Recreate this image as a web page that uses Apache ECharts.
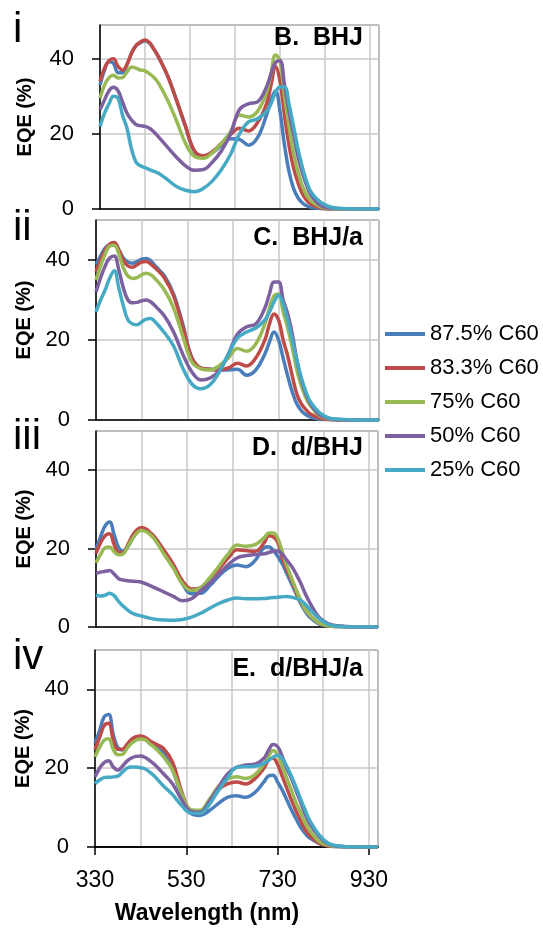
<!DOCTYPE html>
<html>
<head>
<meta charset="utf-8">
<script src="https://cdn.jsdelivr.net/npm/echarts@6/dist/echarts.min.js"></script>
<style>
html,body{margin:0;padding:0;background:#fff;}
#chart{width:543px;height:928px;}
</style>
</head>
<body>
<div id="chart"></div>
<script>
// Wavelength sample points (nm)
const wavelength = [330,340,350,360,370,380,390,400,410,420,430,440,450,460,480,500,520,540,560,580,600,620,640,660,680,700,710,720,730,740,750,760,770,780,790,800,820,840,860,900,950];

const seriesNames = ['87.5% C60','83.3% C60','75% C60','50% C60','25% C60'];
const colors = ['#4A7EBB','#BE4B48','#98B954','#7D60A0','#46AAC5'];
const panelTitles = ['B.  BHJ','C.  BHJ/a','D.  d/BHJ','E.  d/BHJ/a'];
const romanLabels = ['i','ii','iii','iv'];
const xTickLabels = [330,530,730,930];
const yTickLabels = [0,20,40];

// Panel B: BHJ
const bhj_875 = [33,37,39.2,38.8,36.3,36.3,38.5,41.5,43.5,44.3,44.8,44.2,42.5,40.5,35.5,29,22,15.3,14,15,17,18.7,18.5,17,19,25,29,31.5,26,17,10,5.5,3,1.6,0.8,0.4,0.1,0,0,0,0];
const bhj_833 = [34,37.5,39.5,40,38,37,38.5,41.5,43.5,44.5,45,44.3,42.5,40.5,35.5,29,22,15.5,14.2,15.3,17.5,19.8,21.5,20.8,23,28,33,38,34,25,17,11,7,4,2.2,1.2,0.3,0,0,0,0];
const bhj_75  = [29.5,33,35,35.6,34.9,35,36.5,37.8,37.5,37,36.8,36,35,33.5,29,23.5,17.5,14,13.5,15,17.5,20.5,25,24.5,26,31,36,41,39.5,30,22,15,10,6,3.5,2,0.6,0.2,0,0,0];
const bhj_50  = [26.4,29,31.5,32.4,31.5,28.5,25.5,23.7,22.5,22.2,22,21.5,20.5,19.2,16.5,13.8,11.5,10.3,10.5,12.5,15.5,20,26.5,28,28.5,32.5,36,39,39.5,33,26,20,14,9.5,6,3.5,1,0.3,0.1,0,0];
const bhj_25  = [22,25.5,28,30,29.5,25,21.5,16,12.5,11.5,11,10.5,10,9.5,7.8,6,5,4.6,5.5,7.5,10.5,14.5,20,23.2,24,26,28,31,32.5,32.5,28,22,16,11,7,4.3,1.8,0.6,0.2,0,0];

// Panel C: BHJ/a
const bhja_875 = [38.8,41,43,43.8,44.2,42.5,40.5,39.5,39.2,39.6,40.2,40.4,39.8,38.5,36,31.5,24,15.5,13,12.7,12.5,12.5,12.7,11.2,12.5,16.5,19.5,22,20,15.5,11,7,4,2.3,1.3,0.7,0.2,0.1,0,0,0];
const bhja_833 = [37,40,42.5,44,44.4,42.5,40,38.5,38.2,38.8,39.5,39.6,39,38,35.5,31,23.5,15.5,13,12.7,12.5,13,14.2,13.5,15.5,20,24,26.5,25,20,16,11,6.5,4,2.6,1.5,0.5,0.1,0,0,0];
const bhja_75  = [35,38.5,41.5,43.5,43.7,41.5,38,36,35.4,35.6,36.3,36.7,36.3,35.3,32.5,28,21,14.5,12.8,12.5,13.6,15.5,17.9,17.2,19,24,28,31,31.5,27,23,18,12.5,8.5,5.5,3.5,1,0.3,0.1,0,0];
const bhja_50  = [32,35.5,38.5,40.5,41,37.5,33,30,29.3,29.4,29.8,30,29.5,28.5,26,22,16.5,12,10,10.5,12.3,16.5,21.5,23.3,24,28,31.5,34.5,34.5,30,26.5,21.5,15,10,6.5,4,1.3,0.4,0.1,0,0];
const bhja_25  = [27,30,32.5,35.5,37.3,33,28.5,25,24,23.8,24.5,25.2,25.4,24.5,21.8,18.5,13,9,7.8,8.8,12,16.5,20.5,22,23,25,27,29.5,31.2,29,25,20,15,10.5,7,4.5,1.8,0.5,0.2,0,0];

// Panel D: d/BHJ
const dbhj_875 = [19.7,23,25.8,26.8,23.5,20.2,19.3,20.5,22.5,24.3,25.2,24.8,23.8,22.5,19,15.5,11,8.5,8.6,10.5,13,15,15.8,15.4,17,20.3,20.5,19.5,18,16,13.5,11,8.5,6,4,2.5,0.8,0.3,0.1,0,0];
const dbhj_833 = [18.8,21.5,23.3,23.8,21,19,19,21,23.3,24.8,25.4,25,24,22.8,19.5,16,11.8,9.7,10,12.3,14.8,17.5,19.7,19.5,19.3,21.5,23.3,23,21.5,17.5,14.5,12,9,6.5,4.5,3,1,0.3,0.1,0,0];
const dbhj_75  = [16.3,18.5,20.2,20.4,19.2,18.4,18.7,20.5,22.5,24,24.7,24.3,23.5,22.2,18.5,15,11,9.3,10,12.5,15.5,18.5,20.9,20.6,21,22.8,24,24,22.5,19,15.5,12.5,9.5,6.8,4.5,3,1,0.3,0.1,0,0];
const dbhj_50  = [13.7,14,14.2,14.4,13.5,12.3,12,11.8,11.7,11.6,11.4,11,10.5,10,8.9,7.8,6.7,7.2,9.2,11.2,13.5,15.8,17.6,18.2,18.5,18.7,19,19.3,19.4,18.5,17,15.5,13.5,11.2,8.5,6.2,2.5,0.9,0.3,0,0];
const dbhj_25  = [8.2,7.9,8.1,8.6,8,6.5,5.3,4.3,3.5,3.1,2.8,2.5,2.2,2,1.8,1.7,1.9,2.5,3.5,4.8,6,6.9,7.4,7.2,7.2,7.3,7.4,7.5,7.6,7.7,7.8,7.6,7.3,6.8,5.8,4.5,2.2,0.7,0.2,0,0];

// Panel E: d/BHJ/a
const dbhja_875 = [26.3,29.5,33,33.6,28.5,25.2,24.6,25.5,26.8,27.7,28,27.5,26.8,26,23.8,19.5,13,8.5,8,9.2,11,12.6,13,12.6,13.8,16.5,18,18.2,16.5,14.5,12,9.5,7.3,5.1,3.5,2.3,1,0.3,0.1,0,0];
const dbhja_833 = [24.6,27.8,30.8,31.4,27.2,24.8,24.8,26,27.3,28,28.2,27.8,27,26.3,25,21.5,14,9,8.5,11,14.5,16,16.5,16,17.3,20,22,22.5,21,18,15,12,9.3,6.8,4.5,3,1,0.3,0.1,0,0];
const dbhja_75  = [22.9,25.3,27.1,27.5,24.8,23.4,23.5,25,26.3,27.1,27.4,27.2,26.2,25.3,22.9,19.5,13.5,9.5,9.3,12,15.3,17.2,17.8,17.4,18.3,21,23,24.5,23.5,20.5,17.5,14.5,11.3,8.9,6.3,4.3,1.5,0.5,0.1,0,0];
const dbhja_50  = [17.8,20,21.4,21.9,20.3,19.5,20.5,21.8,22.6,23,23.1,22.7,21.9,21,18.6,16,12,9,8.8,11.5,15,18.5,20.2,20.8,21,22.5,24.5,26,25.5,23,20,17.5,14.5,11.5,8.5,6,2.8,0.8,0.2,0,0];
const dbhja_25  = [16.1,17,17.6,17.7,17.8,18,19,20,20.3,20.3,20.1,19.8,19,18,15.5,13.3,10.5,8.6,8.5,10.7,14.3,17.5,20.2,20.4,20.5,21.2,22,22.8,23.3,22.5,20.5,18,15.3,12.3,9.5,6.8,3.2,1,0.3,0,0];

const panels = [
  [bhj_875,bhj_833,bhj_75,bhj_50,bhj_25],
  [bhja_875,bhja_833,bhja_75,bhja_50,bhja_25],
  [dbhj_875,dbhj_833,dbhj_75,dbhj_50,dbhj_25],
  [dbhja_875,dbhja_833,dbhja_75,dbhja_50,dbhja_25]
];
const yMax = [49,50,50,50];

// layout (px)
const grids = [
  {left:100, top:25,  width:279, height:184},
  {left:96,  top:220, width:283, height:200},
  {left:96,  top:431, width:282, height:196},
  {left:95,  top:650, width:283, height:197}
];
const nameGaps = [65,62,62,62];
const FONT = 'Liberation Sans';

const chart = echarts.init(document.getElementById('chart'), null, {renderer:'canvas'});

const xAxes = [], yAxes = [], series = [];
grids.forEach((g,i)=>{
  xAxes.push({
    type:'value', gridIndex:i, position:'bottom', min:330, max:950, interval:100,
    axisLine:{show:true, onZero:false, lineStyle:{color:'#000', width:1.5}},
    axisTick:{show:false}, axisLabel:{show:false},
    splitLine:{show:true, lineStyle:{color:'#C8C8C8', width:1.5}}
  });
  yAxes.push({
    type:'value', gridIndex:i, min:0, max:yMax[i], interval:20,
    name:'EQE (%)', nameLocation:'middle', nameRotate:90, nameGap:nameGaps[i],
    nameTextStyle:{fontFamily:FONT, fontSize:20, fontWeight:'bold', color:'#000'},
    axisLine:{show:true, lineStyle:{color:'#000', width:1.5}},
    axisTick:{show:true, length:8, lineStyle:{color:'#000', width:1.5}},
    axisLabel:{show:true, fontFamily:FONT, fontSize:22, color:'#000', margin:26, showMaxLabel:false,
      formatter:v=> yTickLabels.indexOf(v)>=0 ? String(v) : ''},
    splitLine:{show:true, lineStyle:{color:'#C8C8C8', width:1.5}}
  });
  panels[i].forEach((arr,k)=>{
    series.push({
      name:seriesNames[k], type:'line', xAxisIndex:i, yAxisIndex:i,
      data: wavelength.map((w,j)=>[w, arr[j]]),
      smooth:0.4, symbol:'none', color:colors[k],
      lineStyle:{width:3.5, color:colors[k]}, emphasis:{disabled:true}
    });
  });
});
// labelled wavelength axis for the bottom panel
xAxes.push({
  type:'value', gridIndex:3, position:'bottom', offset:0, min:330, max:950, interval:200,
  axisLine:{show:true, onZero:false, lineStyle:{color:'#000', width:1.5}},
  axisTick:{show:true, length:8, lineStyle:{color:'#000', width:1.5}},
  axisLabel:{show:true, fontFamily:FONT, fontSize:23, color:'#000', margin:22, showMaxLabel:false,
    formatter:v=> xTickLabels.indexOf(v)>=0 ? String(v) : ''},
  splitLine:{show:false}
});

const titleBaselines = [47,247,457,678];
const romanBaselines = [45,243,452,672];
const graphics = [];
panelTitles.forEach((t,i)=>{
  graphics.push({type:'text', z:100, style:{text:t, x:363, y:titleBaselines[i]-8.75,
    font:'bold 25px "'+FONT+'"', fill:'#000', textAlign:'right', textVerticalAlign:'middle'}});
});
romanLabels.forEach((t,i)=>{
  graphics.push({type:'text', z:100, style:{text:t, x:13, y:romanBaselines[i]-14.7,
    font:'42px "'+FONT+'"', fill:'#000', textAlign:'left', textVerticalAlign:'middle'}});
});
graphics.push({type:'text', z:100, style:{text:'Wavelength (nm)', x:207, y:914,
  font:'bold 23px "'+FONT+'"', fill:'#000', textAlign:'center', textVerticalAlign:'middle'}});

chart.setOption({
  animation:false,
  backgroundColor:'#fff',
  grid: grids.map(g=>Object.assign({show:true, borderColor:'#404040', borderWidth:1, backgroundColor:'transparent', containLabel:false}, g)),
  xAxis: xAxes,
  yAxis: yAxes,
  legend:{
    data:seriesNames, orient:'vertical', left:380, top:317,
    itemWidth:40, itemHeight:4, icon:'rect', itemGap:10,
    textStyle:{fontFamily:FONT, fontSize:22, color:'#000', lineHeight:24}
  },
  graphic: graphics,
  series: series
});
</script>
</body>
</html>
